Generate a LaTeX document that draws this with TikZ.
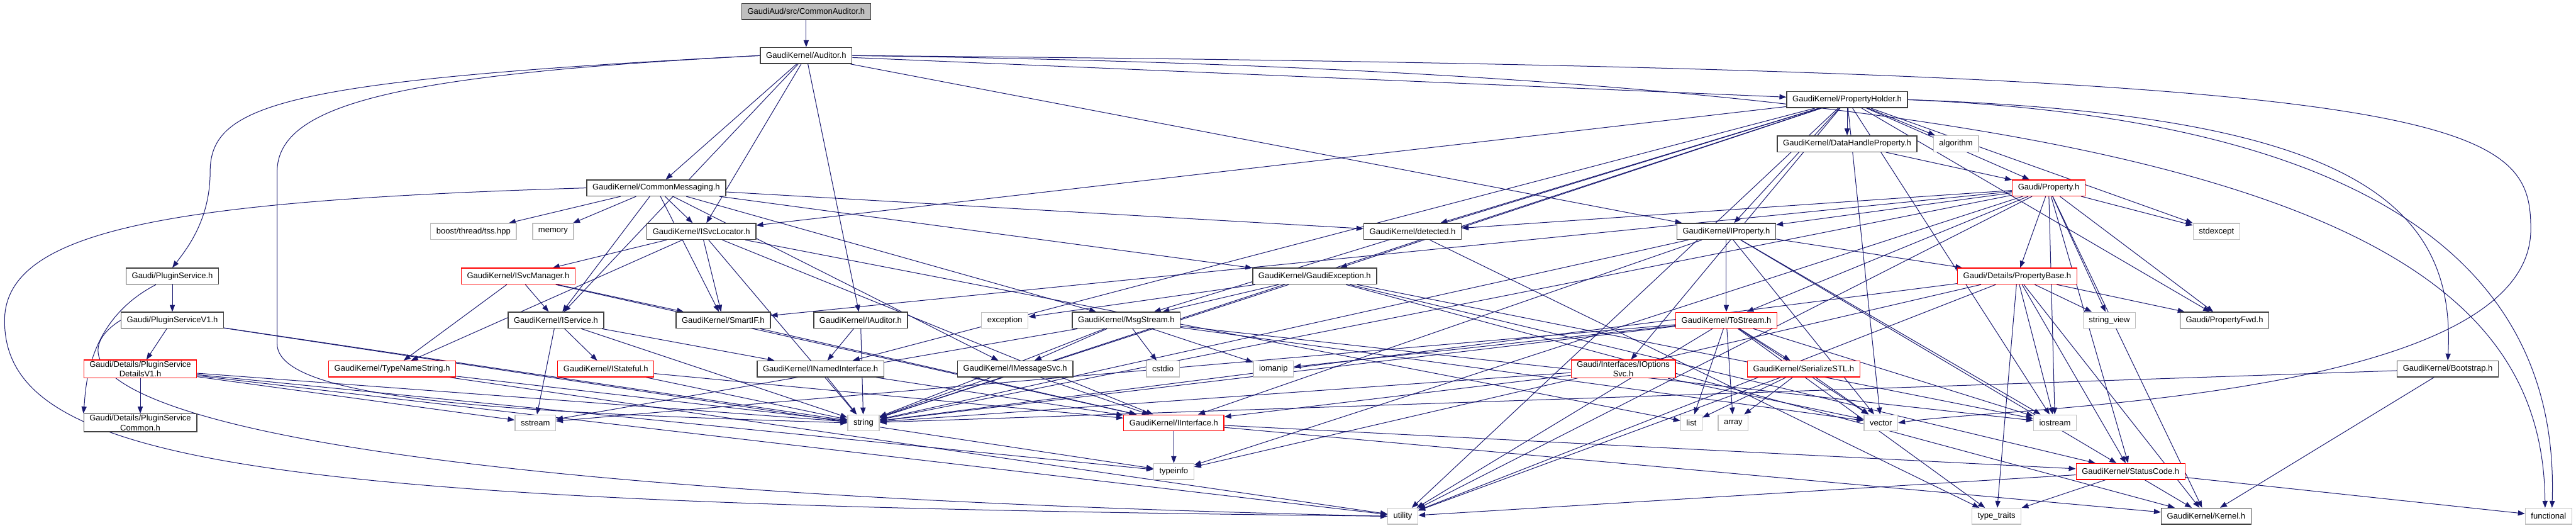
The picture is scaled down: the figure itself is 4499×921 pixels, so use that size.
\documentclass[tikz,border=0pt]{standalone}
\usepackage{fontspec}
\setmainfont{Liberation Sans}
\usetikzlibrary{arrows.meta}
\pgfdeclarelayer{bg}
\pgfsetlayers{bg,main}
\definecolor{depblue}{HTML}{191970}
\definecolor{boxgray}{HTML}{404040}
\definecolor{sysgray}{HTML}{BFBFBF}
\definecolor{truncred}{HTML}{FF0000}
\tikzset{
  hdr/.style={draw=boxgray,line width=1.6pt,fill=white,minimum height=28pt,
    inner xsep=10pt,inner ysep=2pt,align=center},
  trunc/.style={hdr,draw=truncred,line width=1.4pt},
  sys/.style={hdr,draw=sysgray,line width=1.4pt},
  root/.style={hdr,fill=sysgray},
  dep/.style={->,draw=depblue,line width=1.1pt}
}
\begin{document}
\begin{tikzpicture}[x=1pt,y=-1pt,>={Triangle[length=12pt,width=9pt]},
  font=\fontsize{14.3}{16.7}\selectfont]
\useasboundingbox (0,0) rectangle (4499,921);
% rows from top to bottom
\node[root] (cmnaud) at (1408,20) {GaudiAud/src/CommonAuditor.h};
\node[hdr] (auditor) at (1408,97) {GaudiKernel/Auditor.h};
\node[hdr] (propholder) at (3226,174) {GaudiKernel/PropertyHolder.h};
\node[hdr] (dhprop) at (3226,251) {GaudiKernel/DataHandleProperty.h};
\node[sys] (algorithm) at (3416,251) {algorithm};
\node[hdr] (cmnmsg) at (1146,328) {GaudiKernel/CommonMessaging.h};
\node[trunc] (property) at (3578,328) {Gaudi/Property.h};
\node[sys] (tss) at (827,404) {boost/thread/tss.hpp};
\node[sys] (memory) at (966,404) {memory};
\node[hdr] (isvcloc) at (1225,404) {GaudiKernel/ISvcLocator.h};
\node[hdr] (detected) at (2467,404) {GaudiKernel/detected.h};
\node[hdr] (iprop) at (3015,404) {GaudiKernel/IProperty.h};
\node[sys] (stdexcept) at (3871,404) {stdexcept};
\node[hdr] (plugsvc) at (301,482) {Gaudi/PluginService.h};
\node[trunc] (isvcmgr) at (905,482) {GaudiKernel/ISvcManager.h};
\node[hdr] (gexcept) at (2296,482) {GaudiKernel/GaudiException.h};
\node[trunc] (propbase) at (3523,482) {Gaudi/Details/PropertyBase.h};
\node[hdr] (plugsvcv1) at (301,559) {Gaudi/PluginServiceV1.h};
\node[hdr] (iservice) at (971,559) {GaudiKernel/IService.h};
\node[hdr] (smartif) at (1263,559) {GaudiKernel/SmartIF.h};
\node[hdr] (iauditor) at (1503,559) {GaudiKernel/IAuditor.h};
\node[sys] (exception) at (1755,559) {exception};
\node[hdr] (msgstream) at (1967,559) {GaudiKernel/MsgStream.h};
\node[trunc] (tostream) at (3015,559) {GaudiKernel/ToStream.h};
\node[sys] (strview) at (3684,559) {string\_view};
\node[hdr] (propfwd) at (3885,559) {Gaudi/PropertyFwd.h};
\node[trunc] (detailsv) at (245,644) {Gaudi/Details/PluginService\\DetailsV1.h};
\node[trunc] (typename) at (685,644) {GaudiKernel/TypeNameString.h};
\node[trunc] (istateful) at (1058,644) {GaudiKernel/IStateful.h};
\node[hdr] (inamed) at (1433,644) {GaudiKernel/INamedInterface.h};
\node[hdr] (imsgsvc) at (1773,644) {GaudiKernel/IMessageSvc.h};
\node[sys] (cstdio) at (2031,644) {cstdio};
\node[sys] (iomanip) at (2224,644) {iomanip};
\node[trunc] (ioptsvc) at (2835,644) {Gaudi/Interfaces/IOptions\\Svc.h};
\node[trunc] (serialize) at (3150,644) {GaudiKernel/SerializeSTL.h};
\node[hdr] (bootstrap) at (4275,644) {GaudiKernel/Bootstrap.h};
\node[hdr] (pscommon) at (245,738) {Gaudi/Details/PluginService\\Common.h};
\node[sys] (sstream) at (935,738) {sstream};
\node[sys] (string) at (1508,738) {string};
\node[trunc] (iinterface) at (2050,738) {GaudiKernel/IInterface.h};
\node[sys] (list) at (2954,738) {list};
\node[sys] (array) at (3027,738) {array};
\node[sys] (vector) at (3285,738) {vector};
\node[sys] (iostream) at (3589,738) {iostream};
\node[sys] (typeinfo) at (2050,823) {typeinfo};
\node[trunc] (statuscode) at (3721,823) {GaudiKernel/StatusCode.h};
\node[sys] (utility) at (2450,901) {utility};
\node[sys] (typetraits) at (3487,901) {type\_traits};
\node[hdr] (kernel) at (3853,901) {GaudiKernel/Kernel.h};
\node[sys] (functional) at (4451,901) {functional};
\begin{pgfonlayer}{bg}
% straight includes
\foreach \s/\t in {cmnaud/auditor,
  auditor/cmnmsg,auditor/isvcloc,auditor/iservice,auditor/iauditor,auditor/iprop,auditor/propholder,
  propholder/dhprop,propholder/algorithm,propholder/property,propholder/detected,propholder/iprop,
  propholder/stdexcept,propholder/isvcloc,propholder/gexcept,propholder/msgstream,propholder/propfwd,
  propholder/ioptsvc,propholder/iostream,propholder/string,propholder/utility,propholder/vector,
  propholder/inamed,dhprop/property,
  cmnmsg/tss,cmnmsg/memory,cmnmsg/isvcloc,cmnmsg/iservice,cmnmsg/imsgsvc,cmnmsg/smartif,
  cmnmsg/msgstream,cmnmsg/gexcept,cmnmsg/detected,
  property/propbase,property/propfwd,property/iprop,property/tostream,property/detected,
  property/smartif,property/stdexcept,property/strview,property/kernel,property/typeinfo,
  property/utility,property/iostream,property/string,property/statuscode,
  isvcloc/isvcmgr,isvcloc/smartif,isvcloc/typename,isvcloc/iinterface,isvcloc/list,isvcloc/string,
  iprop/tostream,iprop/string,iprop/iinterface,iprop/vector,iprop/propbase,iprop/statuscode,
  iprop/iostream,detected/typetraits,plugsvc/plugsvcv1,
  plugsvcv1/detailsv,plugsvcv1/string,plugsvcv1/typeinfo,
  detailsv/pscommon,detailsv/sstream,detailsv/string,detailsv/typeinfo,detailsv/utility,
  isvcmgr/iservice,isvcmgr/typename,isvcmgr/smartif,isvcmgr/iinterface,
  gexcept/exception,gexcept/msgstream,gexcept/string,gexcept/iostream,gexcept/statuscode,gexcept/kernel,
  propbase/strview,propbase/propfwd,propbase/iostream,propbase/statuscode,propbase/kernel,
  propbase/typeinfo,propbase/utility,propbase/string,propbase/typetraits,
  iservice/inamed,iservice/istateful,iservice/sstream,iservice/string,
  smartif/iinterface,iauditor/inamed,iauditor/string,
  msgstream/imsgsvc,msgstream/cstdio,msgstream/iomanip,msgstream/string,msgstream/sstream,
  msgstream/iostream,msgstream/vector,
  tostream/serialize,tostream/list,tostream/array,tostream/vector,tostream/iomanip,tostream/iostream,
  tostream/sstream,tostream/string,tostream/typetraits,tostream/utility,
  typename/string,typename/utility,istateful/iinterface,istateful/string,
  inamed/string,inamed/iinterface,imsgsvc/string,imsgsvc/iinterface,
  ioptsvc/iinterface,ioptsvc/string,ioptsvc/vector,
  serialize/list,serialize/array,serialize/vector,serialize/utility,
  bootstrap/kernel,bootstrap/string,
  iinterface/typeinfo,iinterface/statuscode,iinterface/kernel,
  statuscode/typetraits,statuscode/kernel,statuscode/functional,statuscode/utility}
  \draw[dep] (\s) -- (\t);
% long routes round the outside
\draw[dep] (auditor.west) .. controls (500,140) and (367,180) .. (367,300)
  .. controls (367,380) and (330,430) .. (plugsvc.north);
\draw[dep] (auditor.west) .. controls (700,130) and (484,180) .. (484,300)
  -- (484,600) .. controls (484,700) and (900,720) .. (string.west);
\draw[dep] (auditor.east) .. controls (4300,120) and (4420,200) .. (4420,400)
  .. controls (4420,700) and (3500,710) .. (vector.east);
\draw[dep] (auditor.east) .. controls (3900,130) and (4440,400) .. ([xshift=-6pt]functional.north);
\draw[dep] (propholder.east) .. controls (4100,200) and (4290,350) .. (bootstrap.north);
\draw[dep] (propholder.east) .. controls (4200,210) and (4470,500) .. ([xshift=6pt]functional.north);
\draw[dep] (cmnmsg.west) .. controls (300,350) and (8,400) .. (8,560)
  .. controls (8,820) and (500,880) .. (utility.west);
\draw[dep] (plugsvc) .. controls (150,560) and (150,680) .. (pscommon.north west);
\draw[dep] (plugsvcv1.west) .. controls (80,640) and (150,850) .. (utility.west);
\end{pgfonlayer}
\end{tikzpicture}
\end{document}
